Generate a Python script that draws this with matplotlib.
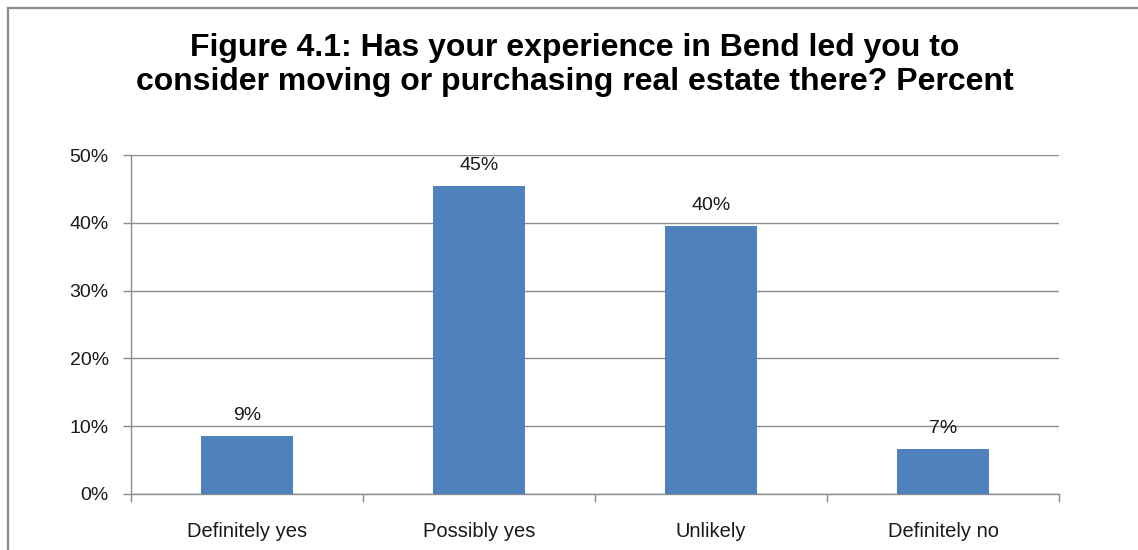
import matplotlib
matplotlib.use("Agg")
import matplotlib.pyplot as plt
from matplotlib.lines import Line2D
from matplotlib.ticker import MultipleLocator, FixedLocator, PercentFormatter

categories = ["Definitely yes", "Possibly yes", "Unlikely", "Definitely no"]
percent = [8.6, 45.4, 39.6, 6.6]
title_text = ("Figure 4.1: Has your experience in Bend led you to\n"
              "consider moving or purchasing real estate there? Percent")

plt.rcParams["font.family"] = ["Liberation Sans", "DejaVu Sans"]

W, H = 1138, 550
fig = plt.figure(figsize=(W / 100, H / 100), dpi=100)
fig.patch.set_facecolor("white")

# outer chart frame (left and top edges)
frame_col = "#8c8c8c"
fig.add_artist(Line2D([8 / W, 8 / W], [0, 1 - 8 / H], transform=fig.transFigure,
                      color=frame_col, lw=1.6))
fig.add_artist(Line2D([8 / W, 1], [1 - 8 / H, 1 - 8 / H], transform=fig.transFigure,
                      color=frame_col, lw=1.6))

ax = fig.add_axes([131 / W, 56 / H, (1059 - 131) / W, (494 - 155) / H])
x = list(range(len(categories)))
bars = ax.bar(x, percent, width=0.4, color="#4F81BD", zorder=3)

lab_size = 14
for xi, v in zip(x, percent):
    ax.annotate(f"{round(v):d}%", (xi, v), xytext=(0, 11.5), textcoords="offset points",
                ha="center", va="baseline", fontsize=lab_size, color="#1a1a1a")

ax.set_xlim(-0.5, len(categories) - 0.5)
ax.set_ylim(0, 50)
ax.yaxis.set_major_locator(MultipleLocator(10))
ax.yaxis.set_major_formatter(PercentFormatter(decimals=0))
ax.grid(axis="y", color="#8c8c8c", lw=1.0, zorder=0)

ax.set_xticks(x)
ax.set_xticklabels(categories)
ax.xaxis.set_minor_locator(FixedLocator([i - 0.5 for i in range(len(categories) + 1)]))
ax.tick_params(axis="x", which="major", length=0, pad=20, labelsize=14.5, labelcolor="#1a1a1a")
ax.tick_params(axis="x", which="minor", length=6, width=1, color="#8c8c8c", direction="out")
ax.tick_params(axis="y", length=6, width=1, color="#8c8c8c", pad=10, labelsize=lab_size,
               labelcolor="#1a1a1a")

for s in ("top", "right"):
    ax.spines[s].set_visible(False)
for s in ("left", "bottom"):
    ax.spines[s].set_color("#8c8c8c")
    ax.spines[s].set_linewidth(1.0)

fig.text(575 / W, 1 - 65 / H, title_text, ha="center", va="center", fontsize=23,
         fontweight="bold", linespacing=1.18, color="black")

fig.savefig("out.png", dpi=100)
